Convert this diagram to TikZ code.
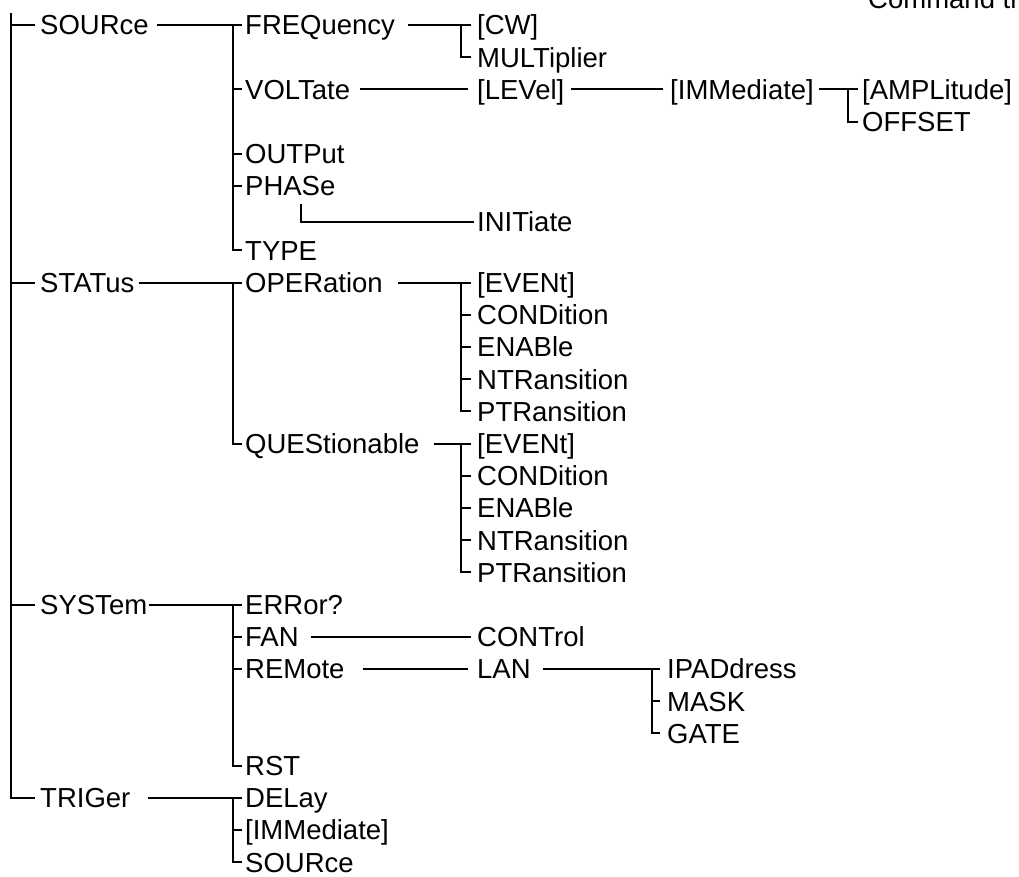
\documentclass[tikz,border=0pt]{standalone}
\usepackage{fontspec}
\setmainfont{Liberation Sans}
\begin{document}
\begin{tikzpicture}[x=1pt,y=-1pt,
  lbl/.style={anchor=west, inner sep=0pt, text height=19.7pt, text depth=0pt,
              font=\fontsize{27.5pt}{33pt}\selectfont},
  conn/.style={line width=2pt}]
\clip (0,0) rectangle (1019,876);
\useasboundingbox (0,0) rectangle (1019,876);

% title (cut off at the top)
\node[lbl, anchor=base west] (title) at (868,8) {Command tree};

% level 1
\coordinate (top) at (11,13);
\node[lbl] (src) at (40,25) {SOURce};
\node[lbl] (sta) at (40,282.6) {STATus};
\node[lbl] (sys) at (40,604.6) {SYSTem};
\node[lbl] (trg) at (40,797.8) {TRIGer};

% level 2
\node[lbl] (freq) at (245,25) {FREQuency};
\node[lbl] (volt) at (245,89.4) {VOLTate};
\node[lbl] (outp) at (245,153.8) {OUTPut};
\node[lbl] (phas) at (245,186) {PHASe};
\node[lbl] (type) at (245,250.4) {TYPE};
\node[lbl] (oper) at (245,282.6) {OPERation};
\node[lbl] (ques) at (245,443.6) {QUEStionable};
\node[lbl] (err) at (245,604.6) {ERRor?};
\node[lbl] (fan) at (245,636.8) {FAN};
\node[lbl] (rem) at (245,669) {REMote};
\node[lbl] (rst) at (245,765.6) {RST};
\node[lbl] (dly) at (245,797.8) {DELay};
\node[lbl] (timm) at (245,830) {[IMMediate]};
\node[lbl] (tsrc) at (245,862.2) {SOURce};

% level 3
\node[lbl] (cw) at (477,25) {[CW]};
\node[lbl] (mult) at (477,57.2) {MULTiplier};
\node[lbl] (lev) at (477,89.4) {[LEVel]};
\node[lbl] (init) at (477,222) {INITiate};
\node[lbl] (oa) at (477,282.6) {[EVENt]};
\node[lbl] (ob) at (477,314.8) {CONDition};
\node[lbl] (oc) at (477,347) {ENABle};
\node[lbl] (od) at (477,379.2) {NTRansition};
\node[lbl] (oe) at (477,411.4) {PTRansition};
\node[lbl] (qa) at (477,443.6) {[EVENt]};
\node[lbl] (qb) at (477,475.8) {CONDition};
\node[lbl] (qc) at (477,508) {ENABle};
\node[lbl] (qd) at (477,540.2) {NTRansition};
\node[lbl] (qe) at (477,572.4) {PTRansition};
\node[lbl] (ctrl) at (477,636.8) {CONTrol};
\node[lbl] (lan) at (477,669) {LAN};

% level 4
\node[lbl] (imm) at (670,89.4) {[IMMediate]};
\node[lbl] (ipad) at (667,669) {IPADdress};
\node[lbl] (mask) at (667,701.2) {MASK};
\node[lbl] (gate) at (667,733.4) {GATE};

% level 5
\node[lbl] (amp) at (862,89.4) {[AMPLitude]};
\node[lbl] (off) at (862,121.6) {OFFSET};

% ---- connectors ----
% root
\draw[conn] (top) |- ([xshift=-5pt]trg.west);
\foreach \n in {src,sta,sys}
  \draw[conn] (top |- \n.west) -- ([xshift=-5pt]\n.west);

% level 1 -> level 2
\draw[conn] ([xshift=8pt]src.east) -- ([xshift=-3pt]freq.west);
\draw[conn] ([xshift=-12pt]freq.west) |- ([xshift=-3pt]type.west);
\foreach \n in {volt,outp,phas}
  \draw[conn] ([xshift=-12pt]\n.west) -- ([xshift=-3pt]\n.west);

\draw[conn] ([xshift=4pt]sta.east) -- ([xshift=-3pt]oper.west);
\draw[conn] ([xshift=-12pt]oper.west) |- ([xshift=-3pt]ques.west);

\draw[conn] ([xshift=2pt]sys.east) -- ([xshift=-3pt]err.west);
\draw[conn] ([xshift=-12pt]err.west) |- ([xshift=-3pt]rst.west);
\foreach \n in {fan,rem}
  \draw[conn] ([xshift=-12pt]\n.west) -- ([xshift=-3pt]\n.west);

\draw[conn] ([xshift=17pt]trg.east) -- ([xshift=-3pt]dly.west);
\draw[conn] ([xshift=-12pt]dly.west) |- ([xshift=-3pt]tsrc.west);
\draw[conn] ([xshift=-12pt]timm.west) -- ([xshift=-3pt]timm.west);

% level 2 -> level 3
\draw[conn] ([xshift=13pt]freq.east) -- ([xshift=-6pt]cw.west);
\draw[conn] ([xshift=-16pt]cw.west) |- ([xshift=-6pt]mult.west);
\draw[conn] ([xshift=10pt]volt.east) -- ([xshift=-9pt]lev.west);
\draw[conn] ([xshift=56pt,yshift=-8pt]phas.south west) |- ([xshift=-3pt]init.west);

\draw[conn] ([xshift=15pt]oper.east) -- ([xshift=-6pt]oa.west);
\draw[conn] ([xshift=-16pt]oa.west) |- ([xshift=-6pt]oe.west);
\foreach \n in {ob,oc,od}
  \draw[conn] ([xshift=-16pt]\n.west) -- ([xshift=-6pt]\n.west);

\draw[conn] ([xshift=14pt]ques.east) -- ([xshift=-6pt]qa.west);
\draw[conn] ([xshift=-16pt]qa.west) |- ([xshift=-6pt]qe.west);
\foreach \n in {qb,qc,qd}
  \draw[conn] ([xshift=-16pt]\n.west) -- ([xshift=-6pt]\n.west);

\draw[conn] ([xshift=12pt]fan.east) -- ([xshift=-6pt]ctrl.west);
\draw[conn] ([xshift=18pt]rem.east) -- ([xshift=-9pt]lan.west);

% level 3 -> level 4
\draw[conn] ([xshift=6pt]lev.east) -- ([xshift=-7pt]imm.west);
\draw[conn] ([xshift=12pt]lan.east) -- ([xshift=-7pt]ipad.west);
\draw[conn] ([xshift=-15pt]ipad.west) |- ([xshift=-7pt]gate.west);
\draw[conn] ([xshift=-15pt]mask.west) -- ([xshift=-7pt]mask.west);

% level 4 -> level 5
\draw[conn] ([xshift=5pt]imm.east) -- ([xshift=-4pt]amp.west);
\draw[conn] ([xshift=-14pt]amp.west) |- ([xshift=-4pt]off.west);
\end{tikzpicture}
\end{document}
